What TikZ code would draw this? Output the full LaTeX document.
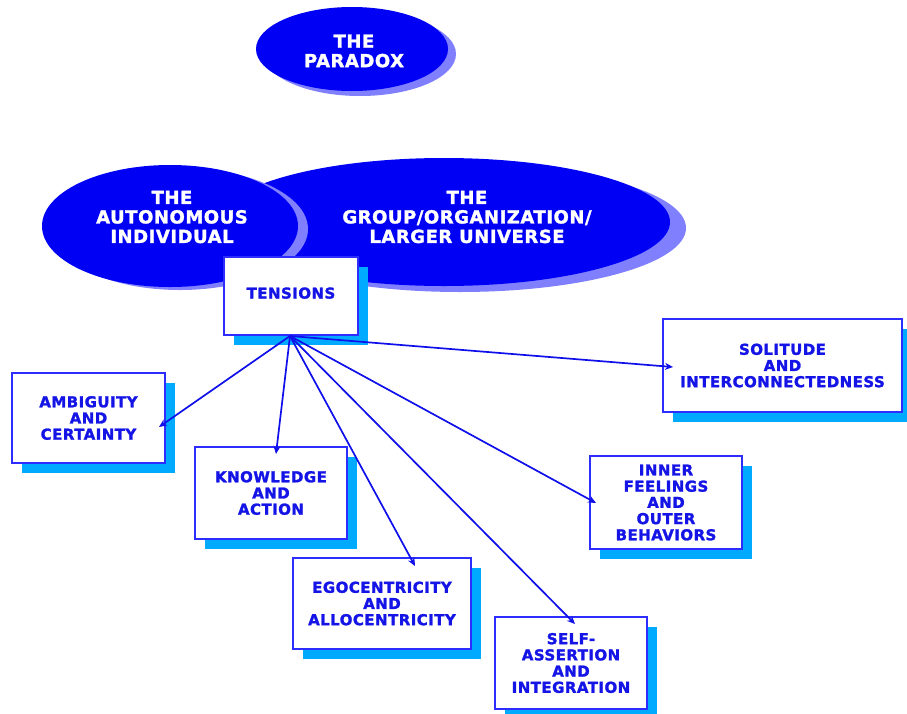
\documentclass[tikz,border=0pt]{standalone}
\usepackage{fontspec}
\usetikzlibrary{shapes.geometric,shadows,arrows.meta}
\newfontfamily\lab{DejaVu Sans}[LetterSpace=3, BoldFeatures={FakeBold=1.6}]
\definecolor{ellblue}{RGB}{0,0,245}
\definecolor{ellshadow}{RGB}{128,128,255}
\definecolor{boxshadow}{RGB}{0,170,255}
\definecolor{boxline}{RGB}{45,45,255}
\definecolor{textblue}{RGB}{20,20,230}
\definecolor{arrowblue}{RGB}{15,15,235}
\tikzset{
  ell/.style={ellipse, fill=ellblue, inner sep=0pt},
  etext/.style={align=center, text=white, inner sep=0pt,
    font=\lab\bfseries\fontsize{18}{19.5}\selectfont},
  box/.style={rectangle, draw=boxline, line width=2pt, fill=white,
    align=center, inner sep=0pt, text=textblue,
    font=\lab\bfseries\fontsize{15}{16.2}\selectfont,
    drop shadow={shadow xshift=10pt, shadow yshift=-10pt, fill=boxshadow, opacity=1}},
  conn/.style={draw=arrowblue, line width=1.7pt, -{Stealth[length=8pt,width=7pt]}}
}
\begin{document}
\begin{tikzpicture}[x=1pt,y=-1pt]
\useasboundingbox (0,0) rectangle (907,713);
% The paradox
\node[ell, minimum width=192pt, minimum height=84pt,
  drop shadow={shadow xshift=8pt, shadow yshift=-5pt, fill=ellshadow, opacity=1}] (par) at (352,49) {};
\node[etext] (partext) at (354,51) {THE\\PARADOX};
% group ellipse
\node[ell, minimum width=452pt, minimum height=128pt,
  drop shadow={shadow xshift=16pt, shadow yshift=-6pt, fill=ellshadow, opacity=1}] (grp) at (444,222) {};
\node[etext] (grptext) at (467,217) {THE\\GROUP/ORGANIZATION/\\LARGER UNIVERSE};
% autonomous ellipse
\node[ell, minimum width=256pt, minimum height=122pt,
  drop shadow={shadow xshift=10pt, shadow yshift=-3pt, fill=ellshadow, opacity=1}] (aut) at (170,226) {};
\node[etext] (auttext) at (172,217) {THE\\AUTONOMOUS\\INDIVIDUAL};
% boxes
\node[box, minimum width=134pt, minimum height=78pt] (tens) at (291,296) {\raisebox{6pt}{TENSIONS}};
\node[box, minimum width=153pt, minimum height=90pt] (amb) at (88.5,418) {AMBIGUITY\\AND\\CERTAINTY};
\node[box, minimum width=239pt, minimum height=93pt] (sol) at (782.5,365.5) {SOLITUDE\\AND\\INTERCONNECTEDNESS};
\node[box, minimum width=152pt, minimum height=92pt] (know) at (271,493) {KNOWLEDGE\\AND\\ACTION};
\node[box, minimum width=152pt, minimum height=93pt] (inner) at (666,502.5) {INNER\\FEELINGS\\AND\\OUTER\\BEHAVIORS};
\node[box, minimum width=178pt, minimum height=91pt] (ego) at (382,603.5) {EGOCENTRICITY\\AND\\ALLOCENTRICITY};
\node[box, minimum width=152pt, minimum height=92pt] (self) at (571,663) {SELF-\\ASSERTION\\AND\\INTEGRATION};
% connectors
\coordinate (src) at (290,336);
\coordinate (tamb) at (159,427);
\coordinate (tknow) at (276,454);
\coordinate (tego) at (415,566);
\coordinate (tself) at (575,624);
\coordinate (tinner) at (596,503);
\coordinate (tsol) at (673,367);
\draw[conn] (src) -- (tamb);
\draw[conn] (src) -- (tknow);
\draw[conn] (src) -- (tego);
\draw[conn] (src) -- (tself);
\draw[conn] (src) -- (tinner);
\draw[conn] (src) -- (tsol);
\end{tikzpicture}
\end{document}
